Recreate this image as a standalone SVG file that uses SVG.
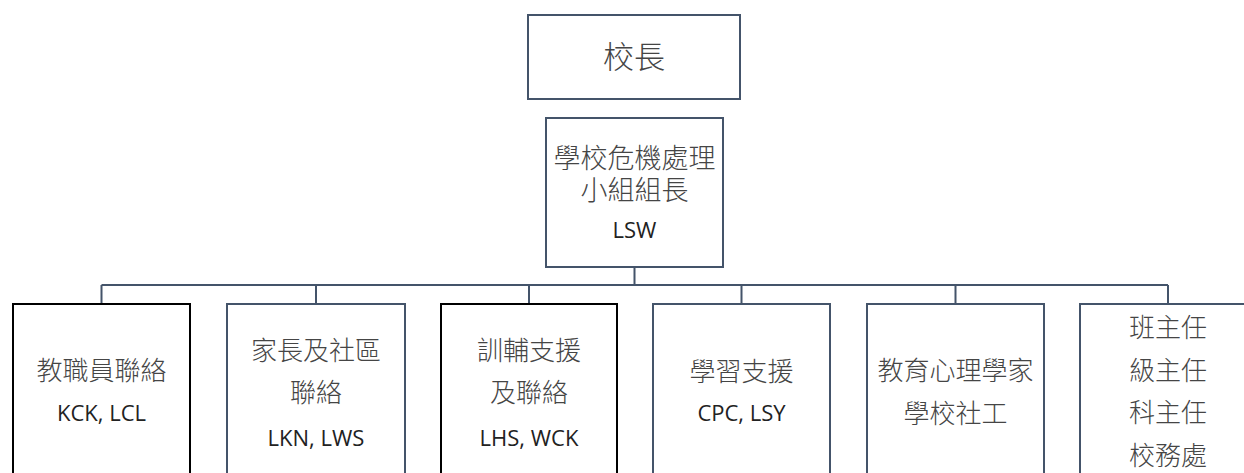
<svg xmlns="http://www.w3.org/2000/svg" width="1244" height="473" viewBox="0 0 1244 473">
<style>
.box{fill:#ffffff;stroke:#44546a;stroke-width:2}
.boxk{fill:#ffffff;stroke:#000000;stroke-width:2}
.cjk{font-family:"Noto Sans CJK TC","Noto Sans CJK SC",sans-serif;font-weight:300;font-size:26px;fill:#454545;text-anchor:middle}
.lat{font-family:"Open Sans","Liberation Sans",sans-serif;font-size:22px;fill:#222222;text-anchor:middle}
.conn{fill:none;stroke:#44546a;stroke-width:2}
</style>
<rect width="1244" height="473" fill="#ffffff"/>
<g id="connectors">
<path class="conn" d="M634.5,267 V285 M101.5,285 H1168 M101.5,285 V304 M316,285 V304 M529,285 V304 M741.5,285 V304 M955.5,285 V304 M1168,285 V304"/>
</g>
<g id="principal">
<rect class="box" x="528" y="15" width="212" height="84"/>
<text class="cjk" x="634" y="68" style="font-size:31px">校長</text>
</g>
<g id="crisis-leader">
<rect class="box" x="546" y="118" width="177" height="149"/>
<text class="cjk" style="font-size:27px"><tspan x="634.5" y="168">學校危機處理</tspan><tspan x="634.5" y="200">小組組長</tspan></text>
<text class="lat" x="634.5" y="238">LSW</text>
</g>
<g id="staff-liaison">
<rect class="boxk" x="13" y="304" width="177" height="180"/>
<text class="cjk" x="101.5" y="380">教職員聯絡</text>
<text class="lat" x="101.5" y="421">KCK, LCL</text>
</g>
<g id="parent-liaison">
<rect class="box" x="227" y="304" width="178" height="180"/>
<text class="cjk" x="316" y="360">家長及社區</text>
<text class="cjk" x="316" y="402">聯絡</text>
<text class="lat" x="316" y="446">LKN, LWS</text>
</g>
<g id="guidance">
<rect class="boxk" x="441" y="304" width="176" height="180"/>
<text class="cjk" x="529" y="360">訓輔支援</text>
<text class="cjk" x="529" y="402">及聯絡</text>
<text class="lat" x="529" y="446">LHS, WCK</text>
</g>
<g id="learning-support">
<rect class="box" x="653" y="304" width="177" height="180"/>
<text class="cjk" x="741.5" y="381">學習支援</text>
<text class="lat" x="741.5" y="421">CPC, LSY</text>
</g>
<g id="psych-social">
<rect class="box" x="867" y="304" width="177" height="180"/>
<text class="cjk" x="955.5" y="380">教育心理學家</text>
<text class="cjk" x="955.5" y="423">學校社工</text>
</g>
<g id="teachers">
<rect class="box" x="1080" y="304" width="176" height="180"/>
<text class="cjk" x="1168" y="337">班主任</text>
<text class="cjk" x="1168" y="380">級主任</text>
<text class="cjk" x="1168" y="422">科主任</text>
<text class="cjk" x="1168" y="465">校務處</text>
</g>
</svg>
